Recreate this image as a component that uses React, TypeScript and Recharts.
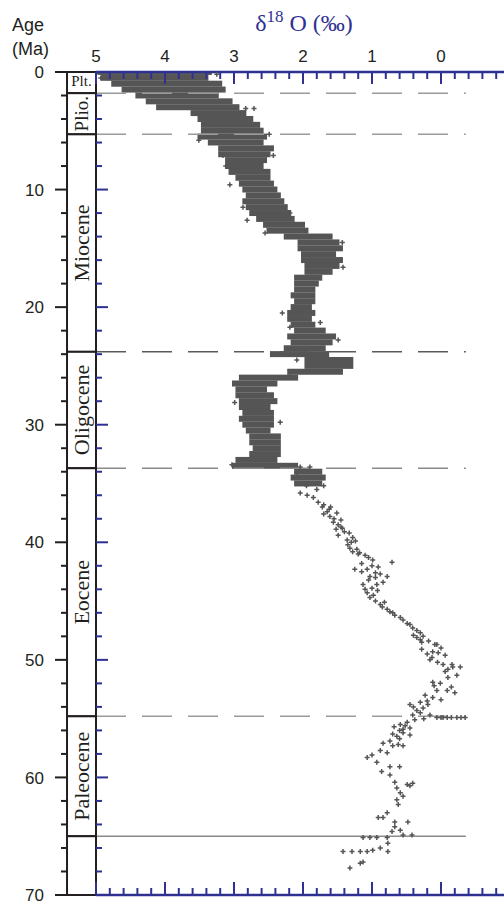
import {
  Bar,
  ComposedChart,
  ReferenceArea,
  ReferenceLine,
  Scatter,
  XAxis,
  YAxis,
} from "recharts";

const NAVY = "#2e3192";
const INK = "#231f20";
const GREY = "#555555";
const SANS = "'Liberation Sans', Arial, sans-serif";
const SERIF = "'Liberation Serif', 'Times New Roman', serif";

// dense part of the record: [age Ma, heavy edge ‰, light edge ‰] every 0.5 Ma
const band: [number, number, number][] = [
  [0, 4.95, 3.35], [0.5, 4.9, 3.4], [1, 4.75, 3.2], [1.5, 4.6, 3.15],
  [2, 4.4, 3.25], [2.5, 4.25, 3.05], [3, 4.1, 2.95], [3.5, 3.6, 2.85],
  [4, 3.5, 2.75], [4.5, 3.45, 2.65], [5, 3.45, 2.6], [5.5, 3.5, 2.55],
  [6, 3.35, 2.6], [6.5, 3.2, 2.45], [7, 3.2, 2.5], [7.5, 3.1, 2.55],
  [8, 3.1, 2.6], [8.5, 3.05, 2.5], [9, 2.95, 2.5], [9.5, 2.9, 2.45],
  [10, 2.85, 2.4], [10.5, 2.8, 2.35], [11, 2.85, 2.3], [11.5, 2.8, 2.25],
  [12, 2.75, 2.2], [12.5, 2.65, 2.15], [13, 2.55, 2.0], [13.5, 2.5, 1.95],
  [14, 2.25, 1.6], [14.5, 2.05, 1.5], [15, 2.05, 1.45], [15.5, 2.0, 1.55],
  [16, 2.0, 1.45], [16.5, 1.95, 1.5], [17, 1.95, 1.6], [17.5, 2.1, 1.75],
  [18, 2.1, 1.8], [18.5, 2.1, 1.85], [19, 2.15, 1.85], [19.5, 2.1, 1.85],
  [20, 2.15, 1.9], [20.5, 2.2, 1.85], [21, 2.2, 1.9], [21.5, 2.15, 1.85],
  [22, 2.1, 1.7], [22.5, 2.2, 1.55], [23, 2.15, 1.6], [23.5, 2.25, 1.7],
  [24, 2.45, 1.65], [24.5, 1.95, 1.3], [25, 1.95, 1.3], [25.5, 2.2, 1.45],
  [26, 2.9, 2.1], [26.5, 3.0, 2.4], [27, 2.95, 2.55], [27.5, 2.95, 2.45],
  [28, 2.9, 2.4], [28.5, 2.9, 2.5], [29, 2.85, 2.45], [29.5, 2.9, 2.45],
  [30, 2.85, 2.45], [30.5, 2.8, 2.5], [31, 2.75, 2.35], [31.5, 2.75, 2.35],
  [32, 2.7, 2.35], [32.5, 2.75, 2.35], [33, 2.95, 2.4], [33.5, 3.0, 2.1],
  [34, 2.1, 1.75], [34.5, 2.15, 1.7], [35, 2.1, 1.75],
];

// single measurements around the dense cloud: [age, δ18O]
const outliers: [number, number][] = [
  [0.1, 5.0], [0.2, 3.25], [0.5, 4.93], [2.5, 4.16], [3.1, 2.83], [3.1, 2.71],
  [3.5, 3.59], [5.3, 2.49], [5.8, 3.51], [6.5, 2.57], [7.1, 3.16], [7.1, 2.43],
  [8.0, 3.12], [9.6, 3.06], [11.5, 2.87], [12.0, 2.19], [12.6, 2.81], [13.7, 2.55],
  [14.5, 1.43], [16.6, 1.42], [20.5, 2.3], [21.3, 1.75], [21.7, 2.19], [22.8, 1.49],
  [24.5, 2.09], [25.9, 2.19], [28.1, 2.99], [29.8, 2.33], [33.4, 3.03], [33.6, 2.04],
  [33.6, 1.9], [34.1, 2.09],
];

const eoceneTrail: [number, number][] = [
  [35.2, 1.95], [35.2, 1.7], [35.5, 1.8], [35.8, 2.04], [36.0, 1.94], [36.2, 1.85],
  [36.6, 1.78], [36.8, 1.7], [37.0, 1.72], [37.0, 1.6], [37.2, 1.62], [37.4, 1.65],
  [37.5, 1.51], [37.6, 1.7], [37.8, 1.61], [38.0, 1.55], [38.1, 1.45], [38.3, 1.56],
  [38.5, 1.49], [38.7, 1.45], [38.8, 1.43], [38.9, 1.52], [39.1, 1.4], [39.2, 1.33],
  [39.4, 1.49], [39.6, 1.28], [39.8, 1.36], [39.9, 1.24], [40.0, 1.3], [40.2, 1.35],
  [40.5, 1.32], [40.6, 1.22], [40.8, 1.28], [40.9, 1.18], [41.0, 1.2], [41.1, 1.1],
  [41.3, 1.05], [41.5, 0.99], [41.7, 0.71], [41.8, 1.15], [42.0, 1.0], [42.1, 0.91],
  [42.3, 1.25], [42.3, 1.07], [42.5, 1.15], [42.6, 0.95], [42.7, 0.88], [42.9, 1.03],
  [42.9, 0.78], [43.0, 0.95], [43.2, 1.05], [43.4, 0.84], [43.6, 0.93], [43.6, 1.13],
  [43.9, 1.0], [44.0, 1.1], [44.1, 0.92], [44.3, 1.07], [44.5, 0.98], [44.7, 1.03],
  [45.0, 0.95], [45.1, 0.82], [45.3, 0.88], [45.5, 0.85], [45.7, 0.78], [45.9, 0.74],
  [46.0, 0.7], [46.2, 0.67], [46.4, 0.59], [46.6, 0.55], [46.9, 0.49], [47.0, 0.45],
  [47.3, 0.41], [47.5, 0.35], [47.7, 0.3], [47.9, 0.4], [48.0, 0.26], [48.1, 0.35],
  [48.3, 0.3], [48.4, 0.18], [48.5, 0.28], [48.7, 0.06], [48.7, 0.09], [49.0, 0.0],
  [49.1, 0.28], [49.3, 0.12], [49.4, 0.04], [49.5, 0.2], [49.6, -0.06], [49.8, 0.13],
  [50.0, 0.16], [50.2, 0.05], [50.4, -0.03], [50.4, -0.16], [50.6, -0.17], [50.6, -0.28],
  [50.8, -0.1], [51.0, -0.06], [51.3, -0.23], [51.5, -0.1], [51.9, 0.12], [52.0, 0.01],
  [52.2, 0.1], [52.3, -0.15], [52.6, -0.09], [52.6, 0.06], [52.8, -0.2], [53.0, 0.23],
  [53.2, 0.12], [53.4, 0.0], [53.5, 0.2], [53.6, 0.3], [53.8, 0.19], [53.8, 0.45],
  [54.0, 0.4], [54.1, 0.26], [54.3, 0.35], [54.5, 0.3], [54.7, 0.16], [54.7, 0.41],
  [54.9, 0.06], [54.9, 0.0], [54.9, -0.03], [54.9, -0.09], [54.9, -0.15], [54.9, -0.23],
  [54.9, -0.29], [54.9, -0.35], [55.0, 0.25], [55.1, 0.38], [55.3, 0.49], [55.5, 0.59],
  [55.6, 0.52], [55.7, 0.68], [55.8, 0.45], [55.9, 0.55],
];

const paleoceneTrail: [number, number][] = [
  [56.0, 0.6], [56.2, 0.55], [56.3, 0.7], [56.4, 0.45], [56.5, 0.64], [56.7, 0.6],
  [56.9, 0.74], [57.1, 0.84], [57.2, 0.62], [57.3, 0.7], [57.3, 0.55], [57.7, 0.88],
  [57.9, 0.78], [58.1, 1.0], [58.3, 1.07], [58.7, 0.93], [59.1, 0.74], [59.1, 0.6],
  [59.5, 0.86], [59.8, 0.74], [60.4, 0.67], [60.5, 0.41], [60.6, 0.49], [60.7, 0.45],
  [60.9, 0.64], [61.3, 0.59], [61.6, 0.55], [61.9, 0.64], [62.3, 0.62], [63.0, 0.78],
  [63.4, 0.91], [63.4, 0.84], [63.8, 0.67], [63.8, 0.48], [64.2, 0.67], [64.5, 0.59],
  [64.6, 0.71], [64.9, 0.55], [64.9, 0.42], [65.1, 1.13], [65.1, 1.03], [65.1, 0.93],
  [65.1, 0.78], [65.6, 0.77], [66.0, 0.88], [66.2, 0.99], [66.3, 1.07], [66.3, 1.17],
  [66.3, 1.29], [66.3, 1.42], [66.3, 0.77], [67.2, 1.13], [67.3, 1.17], [67.7, 1.32],
];

const epochNames = ["Plt.", "Plio.", "Miocene", "Oligocene", "Eocene", "Paleocene", ""];
const epochTop = [0, 1.8, 5.3, 23.8, 33.7, 54.8, 65];
const epochBase = [1.8, 5.3, 23.8, 33.7, 54.8, 65, 70];

const dashedAges = [1.8, 5.3, 23.8, 33.7, 54.8];
const dashColors = ["#9a9a9a", "#9a9a9a", "#5a5a5a", "#8a8a8a", "#9a9a9a"];
const solidAge = 65;

const ageTicks = [0, 2, 4, 6, 8, 10, 12, 14, 16, 18, 20, 22, 24, 26, 28, 30, 32, 34, 36,
  38, 40, 42, 44, 46, 48, 50, 52, 54, 56, 58, 60, 62, 64, 66, 68, 70];
const d18Ticks = [5, 4.8, 4.6, 4.4, 4.2, 4, 3.8, 3.6, 3.4, 3.2, 3, 2.8, 2.6, 2.4, 2.2, 2,
  1.8, 1.6, 1.4, 1.2, 1, 0.8, 0.6, 0.4, 0.2, 0, -0.2, -0.4, -0.6, -0.8];

const COL_EDGE = 5.42; // left edge of the epoch column, in δ18O units

const bandData = band.map(([age, heavy, light]) => ({ age, r: [heavy, light] }));
const dotData = [...outliers, ...eoceneTrail, ...paleoceneTrail].map(([age, d]) => ({ age, d }));

const isMajor = (v: number, step: number) => Math.abs(v / step - Math.round(v / step)) < 1e-6;

const TopTick = (props: any) => {
  const { x, y, payload } = props;
  const major = isMajor(payload.value, 1);
  return (
    <g>
      <line x1={x} x2={x} y1={y} y2={y + (major ? 12 : 7)} stroke={NAVY} strokeWidth={2} />
      {major && (
        <text x={x} y={y - 10} textAnchor="middle" fontSize={17} fontFamily={SANS} fill={INK}>
          {Math.round(payload.value)}
        </text>
      )}
    </g>
  );
};

const BottomTick = (props: any) => {
  const { x, y, payload } = props;
  const major = isMajor(payload.value, 1);
  return <line x1={x} x2={x} y1={y} y2={y - (major ? 13 : 7)} stroke={NAVY} strokeWidth={2} />;
};

const AgeTick = (props: any) => {
  const { x, y, payload } = props;
  const major = isMajor(payload.value, 10);
  const len = major ? 12 : 6;
  const col = x - 29;
  return (
    <g>
      <line x1={x} x2={x + len} y1={y} y2={y} stroke={NAVY} strokeWidth={2} />
      <line x1={col} x2={col - len} y1={y} y2={y} stroke={INK} strokeWidth={2} />
      {major && (
        <text x={col - 12 - 11} y={y} dy="0.36em" textAnchor="end" fontSize={17} fontFamily={SANS} fill={INK}>
          {payload.value}
        </text>
      )}
    </g>
  );
};

const Plus = (props: any) => {
  const { cx, cy } = props;
  if (cx == null || cy == null) return null;
  return (
    <path
      d={`M${cx - 2.5},${cy}H${cx + 2.5}M${cx},${cy - 2.5}V${cy + 2.5}`}
      stroke={GREY}
      strokeWidth={1.5}
    />
  );
};

// a streak of the cloud: the library gives x/width, drawn 6px thick around the bar's centre
const Streak = (props: any) => {
  const { x, y, width, height } = props;
  if (x == null || width == null) return null;
  const mid = y + height / 2;
  const left = Math.min(x, x + width);
  return <rect x={left - 2} y={mid - 3} width={Math.abs(width) + 4} height={6} fill={GREY} />;
};

const epochShape = (name: string) => (props: any) => {
  const { x, y, width, height } = props;
  const cx = x + width / 2;
  const cy = y + height / 2;
  return (
    <g>
      <rect x={x} y={y} width={width} height={height} fill="#fff" stroke={INK} strokeWidth={2} />
      {name === "Plt." ? (
        <text x={cx} y={y + 14} textAnchor="middle" fontSize={15} fontFamily={SERIF} fill={INK}>
          {name}
        </text>
      ) : name ? (
        <text
          x={cx}
          y={cy}
          dy="0.33em"
          transform={`rotate(-90 ${cx} ${cy})`}
          textAnchor="middle"
          fontSize={name === "Plio." ? 19 : 22}
          fontFamily={SERIF}
          fill={INK}
        >
          {name}
        </text>
      ) : null}
    </g>
  );
};

export default function App() {
  return (
    <div style={{ position: "absolute", left: 0, top: 0, width: 504, height: 904, overflow: "hidden", background: "#fff" }}>
      <ComposedChart
        width={510}
        height={904}
        layout="vertical"
        data={bandData}
        margin={{ top: 0, right: 0, bottom: 0, left: 0 }}
      >
        <XAxis
          xAxisId="t"
          orientation="top"
          type="number"
          domain={[-1, 5]}
          reversed
          allowDataOverflow
          height={72}
          ticks={d18Ticks}
          interval={0}
          tickSize={0}
          tickMargin={0}
          tickLine={false}
          tick={<TopTick />}
          axisLine={{ stroke: NAVY, strokeWidth: 2.5 }}
        />
        <XAxis
          xAxisId="b"
          orientation="bottom"
          type="number"
          domain={[-1, 5]}
          reversed
          allowDataOverflow
          height={9}
          ticks={d18Ticks}
          interval={0}
          tickSize={0}
          tickMargin={0}
          tickLine={false}
          tick={<BottomTick />}
          axisLine={{ stroke: NAVY, strokeWidth: 2.5 }}
        />
        <YAxis
          yAxisId="a"
          type="number"
          dataKey="age"
          domain={[0, 70]}
          allowDataOverflow
          width={96}
          ticks={ageTicks}
          interval={0}
          tickSize={0}
          tickMargin={0}
          tickLine={false}
          tick={<AgeTick />}
          axisLine={{ stroke: INK, strokeWidth: 2 }}
        />
        {dashedAges.map((age, i) => (
          <ReferenceLine
            key={age}
            xAxisId="t"
            yAxisId="a"
            segment={[{ x: 5, y: age }, { x: -0.36, y: age }]}
            stroke={dashColors[i]}
            strokeWidth={1.5}
            strokeDasharray="30 16"
          />
        ))}
        <ReferenceLine
          xAxisId="t"
          yAxisId="a"
          segment={[{ x: 5, y: solidAge }, { x: -0.36, y: solidAge }]}
          stroke="#8a8a8a"
          strokeWidth={1.5}
        />
        <Bar
          xAxisId="t"
          yAxisId="a"
          dataKey="r"
          fill={GREY}
          barSize={6}
          shape={<Streak />}
          isAnimationActive={false}
        />
        <Scatter
          xAxisId="t"
          yAxisId="a"
          data={dotData}
          dataKey="d"
          shape={<Plus />}
          isAnimationActive={false}
        />
        {epochNames.map((name, i) => (
          <ReferenceArea
            key={i}
            xAxisId="t"
            yAxisId="a"
            x1={COL_EDGE}
            x2={5}
            y1={epochTop[i]}
            y2={epochBase[i]}
            ifOverflow="visible"
            shape={epochShape(name)}
          />
        ))}
        <text x={12} y={31} fontSize={18} fontFamily={SANS} fill={INK}>Age</text>
        <text x={12} y={55} fontSize={18} fontFamily={SANS} fill={INK}>(Ma)</text>
        <text x={304} y={31} textAnchor="middle" fontSize={24} fontFamily={SERIF} fill={NAVY}>
          δ<tspan fontSize={17} dy={-9}>18</tspan>
          <tspan dy={9}> O (‰)</tspan>
        </text>
      </ComposedChart>
    </div>
  );
}
